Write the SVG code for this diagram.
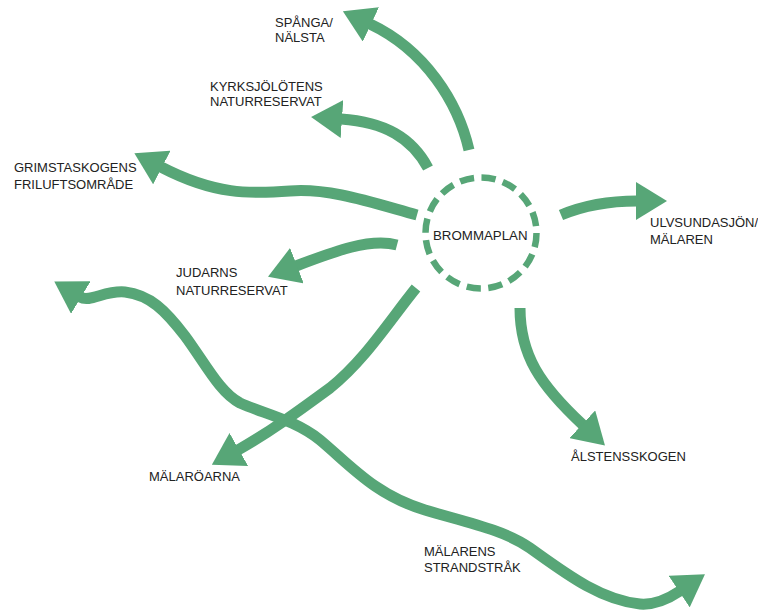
<svg xmlns="http://www.w3.org/2000/svg" width="758" height="613" viewBox="0 0 758 613">
<style>
.flow{fill:none;stroke:#57a677;stroke-width:11;stroke-linecap:butt}
.lbl{font-family:"Liberation Sans",Arial,sans-serif;font-size:13px;fill:#222}
.hub{fill:none;stroke:#57a677;stroke-width:6.5;stroke-dasharray:14.3 7.5}
</style>
<defs>
<marker id="head" viewBox="0 0 31 38" refX="1" refY="19" markerWidth="31" markerHeight="38" markerUnits="userSpaceOnUse" orient="auto-start-reverse">
<path d="M0,0 L31,19 L0,38 Z" fill="#57a677"/>
</marker>
</defs>
<rect width="758" height="613" fill="#fff"/>
<g id="connectors">
<path class="flow" marker-end="url(#head)" d="M469,150 C458,102 425,50 370,24"/>
<path class="flow" marker-end="url(#head)" d="M428,168 C412,138 385,122 341,119"/>
<path class="flow" marker-end="url(#head)" d="M417,215 C370,202 330,188 290,191 C250,194 215,195 161,167"/>
<path class="flow" marker-end="url(#head)" d="M561,215 C585,205 610,201 637,201"/>
<path class="flow" marker-end="url(#head)" d="M397,245 C370,238 335,251 296,266"/>
<path class="flow" marker-end="url(#head)" d="M416,288 C390,320 365,360 330,388 C300,410 270,432 238,450"/>
<path class="flow" marker-end="url(#head)" d="M520,308 C520,355 540,385 583,425"/>
<path class="flow" marker-start="url(#head)" marker-end="url(#head)" d="M80,297 C90,303 105,290 125,292 C150,295 165,310 185,336 C205,363 220,393 240,403 C265,414 295,420 320,440 C350,465 375,495 425,510 C465,522 505,530 530,548 C565,573 600,600 640,604 C652,605 665,601 680,591"/>
</g>
<g id="brommaplan">
<circle class="hub" cx="481" cy="233" r="55.5"/>
<text class="lbl" x="433" y="240" style="font-size:13.3px">BROMMAPLAN</text>
</g>
<g id="spanga"><text class="lbl" x="275" y="27">SPÅNGA/</text><text class="lbl" x="275" y="42">NÄLSTA</text></g>
<g id="kyrksjolotens"><text class="lbl" x="210" y="91">KYRKSJÖLÖTENS</text><text class="lbl" x="210" y="106">NATURRESERVAT</text></g>
<g id="grimsta"><text class="lbl" x="14" y="172">GRIMSTASKOGENS</text><text class="lbl" x="14" y="189">FRILUFTSOMRÅDE</text></g>
<g id="ulvsunda"><text class="lbl" x="650" y="227">ULVSUNDASJÖN/</text><text class="lbl" x="650" y="244">MÄLAREN</text></g>
<g id="judarn"><text class="lbl" x="176" y="277">JUDARNS</text><text class="lbl" x="176" y="295">NATURRESERVAT</text></g>
<g id="malaroarna"><text class="lbl" x="149" y="481">MÄLARÖARNA</text></g>
<g id="alsten"><text class="lbl" x="571" y="461">ÅLSTENSSKOGEN</text></g>
<g id="strand"><text class="lbl" x="424" y="556">MÄLARENS</text><text class="lbl" x="424" y="572">STRANDSTRÅK</text></g>
</svg>
